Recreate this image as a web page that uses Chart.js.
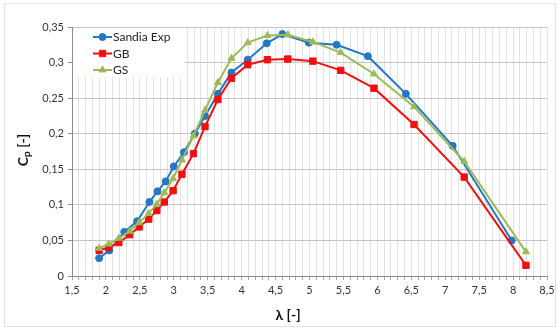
<!DOCTYPE html>
<html>
<head>
<meta charset="utf-8">
<script src="https://cdn.jsdelivr.net/npm/chart.js@4.4.1/dist/chart.umd.min.js"></script>
<style>
  html, body { margin: 0; padding: 0; background: #fff; }
  canvas { display: block; }
</style>
</head>
<body>
<canvas id="cp" width="560" height="331"></canvas>
<script>
// tip speed ratio / power coefficient
const lambdaSandia = [1.90, 2.05, 2.27, 2.46, 2.64, 2.76, 2.88, 3.00, 3.15, 3.31, 3.46, 3.65, 3.85, 4.09, 4.37, 4.60, 4.99, 5.40, 5.86, 6.42, 7.11, 7.98];
const cpSandia     = [0.025, 0.036, 0.062, 0.077, 0.104, 0.119, 0.133, 0.154, 0.174, 0.200, 0.225, 0.256, 0.286, 0.304, 0.327, 0.340, 0.328, 0.325, 0.309, 0.256, 0.183, 0.050];

const lambdaModel = [1.90, 2.04, 2.19, 2.35, 2.49, 2.63, 2.75, 2.86, 2.99, 3.12, 3.29, 3.46, 3.65, 3.85, 4.09, 4.38, 4.68, 5.05, 5.46, 5.95, 6.54, 7.28, 8.19];
const cpGB = [0.036, 0.040, 0.047, 0.058, 0.069, 0.080, 0.092, 0.104, 0.120, 0.143, 0.172, 0.210, 0.248, 0.278, 0.297, 0.304, 0.305, 0.302, 0.289, 0.264, 0.213, 0.139, 0.015];
const cpGS = [0.039, 0.045, 0.053, 0.063, 0.075, 0.088, 0.101, 0.117, 0.137, 0.163, 0.197, 0.233, 0.272, 0.306, 0.328, 0.338, 0.339, 0.329, 0.314, 0.284, 0.238, 0.161, 0.034];

const xTicksMajor = [1.5, 2, 2.5, 3, 3.5, 4, 4.5, 5, 5.5, 6, 6.5, 7, 7.5, 8, 8.5];

const pts = (xs, ys) => xs.map((x, i) => ({ x: x, y: ys[i] }));
const comma = v => String(+v.toFixed(2)).replace('.', ',');

const series = [
  { label: 'Sandia Exp', color: '#2477c4', style: 'circle',   radius: 3.5, data: pts(lambdaSandia, cpSandia), order: 3 },
  { label: 'GB',         color: '#f01010', style: 'rect',     radius: 4.5, data: pts(lambdaModel, cpGB),      order: 2 },
  { label: 'GS',         color: '#9bbb59', style: 'triangle', radius: 4,   data: pts(lambdaModel, cpGS),      order: 1 }
];

const textFont = 'Lato, "Open Sans", sans-serif';

// frame, legend inside the plot on a white box, axis titles
const extras = {
  id: 'extras',
  beforeDraw(chart) {
    const ctx = chart.ctx;
    ctx.save();
    ctx.strokeStyle = '#e2e2e2';
    ctx.lineWidth = 1;
    ctx.strokeRect(4.5, 3.5, 551, 323);
    ctx.restore();
  },
  afterDatasetsDraw(chart) {
    const ctx = chart.ctx;
    const a = chart.chartArea;
    ctx.save();
    ctx.fillStyle = '#fff';
    ctx.fillRect(a.left + 1, a.top + 1.5, 112, 49);
    ctx.font = '12px ' + textFont;
    ctx.textBaseline = 'middle';
    series.forEach((s, i) => {
      const y = 37 + i * 16.5;
      ctx.strokeStyle = s.color;
      ctx.lineWidth = 2;
      ctx.beginPath();
      ctx.moveTo(93, y);
      ctx.lineTo(112, y);
      ctx.stroke();
      ctx.fillStyle = s.color;
      ctx.lineWidth = 1;
      Chart.helpers.drawPoint(ctx, { pointStyle: s.style, radius: s.radius, borderWidth: 1 }, 102.5, y);
      ctx.fillStyle = '#222';
      ctx.fillText(s.label, 113, y + 0.5);
    });

    // x title
    ctx.fillStyle = '#111';
    ctx.font = 'bold 14px ' + textFont;
    ctx.textAlign = 'center';
    ctx.fillText('λ [-]', 288, 315);

    // y title C_p [-]
    ctx.translate(23, 150);
    ctx.rotate(-Math.PI / 2);
    ctx.textAlign = 'left';
    ctx.font = 'bold 14px ' + textFont;
    const w1 = ctx.measureText('C').width;
    const w3 = ctx.measureText(' [-]').width;
    ctx.font = 'bold 10px ' + textFont;
    const w2 = ctx.measureText('p').width;
    const x0 = -(w1 + w2 + w3) / 2;
    ctx.font = 'bold 14px ' + textFont;
    ctx.fillText('C', x0, 0);
    ctx.fillText(' [-]', x0 + w1 + w2, 0);
    ctx.font = 'bold 10px ' + textFont;
    ctx.fillText('p', x0 + w1, 4);
    ctx.restore();
  }
};

new Chart(document.getElementById('cp'), {
  type: 'line',
  data: {
    datasets: series.map(s => ({
      label: s.label,
      data: s.data,
      borderColor: s.color,
      backgroundColor: s.color,
      pointStyle: s.style,
      pointRadius: s.radius,
      pointBorderWidth: 1,
      borderWidth: 2,
      tension: 0,
      order: s.order
    }))
  },
  options: {
    responsive: false,
    animation: false,
    devicePixelRatio: 1,
    layout: { padding: { left: 0, right: 13, top: 27, bottom: 0 } },
    plugins: { legend: { display: false }, tooltip: { enabled: false } },
    scales: {
      x: {
        type: 'linear',
        min: 1.5,
        max: 8.5,
        afterBuildTicks(scale) {
          const t = [];
          for (let i = 15; i <= 85; i++) t.push({ value: i / 10 });
          scale.ticks = t;
        },
        afterFit(scale) { scale.height = 55; },
        ticks: {
          autoSkip: false,
          maxRotation: 0,
          padding: 4,
          color: '#333',
          font: { size: 11, family: textFont },
          callback: v => xTicksMajor.some(m => Math.abs(m - v) < 1e-6) ? comma(v) : ''
        },
        grid: { color: '#e2e2e2', tickColor: '#a8a8a8', tickLength: 4 },
        border: { color: '#8c8c8c' }
      },
      y: {
        min: 0,
        max: 0.35,
        afterFit(scale) { scale.width = 72; },
        ticks: {
          stepSize: 0.05,
          padding: 4,
          color: '#333',
          font: { size: 11, family: textFont },
          callback: v => comma(v)
        },
        grid: { color: '#c4c4c4', tickColor: '#8c8c8c', tickLength: 4 },
        border: { color: '#8c8c8c' }
      }
    }
  },
  plugins: [extras]
});
</script>
</body>
</html>
